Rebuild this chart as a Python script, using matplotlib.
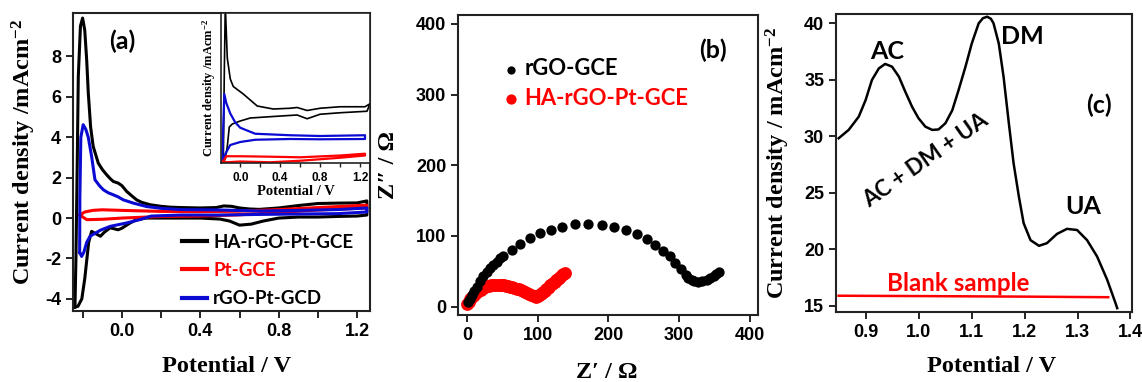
import numpy as np
import matplotlib
matplotlib.use("Agg")
import matplotlib.pyplot as plt

plt.rcParams['font.family'] = ['Liberation Sans', 'DejaVu Sans']
plt.rcParams['font.weight'] = 'bold'
plt.rcParams['axes.unicode_minus'] = False
plt.rcParams['mathtext.fontset'] = 'custom'
plt.rcParams['mathtext.rm'] = 'Liberation Serif:bold'
plt.rcParams['mathtext.bf'] = 'Liberation Serif:bold'
plt.rcParams['mathtext.default'] = 'bf'

# ---- (a) cyclic voltammograms: forward / reverse sweeps ----
ha_fwd_v = [-0.24, -0.235, -0.228, -0.223, -0.212, -0.201, -0.19, -0.18, -0.172, -0.16, -0.147,
            -0.121, -0.1, -0.078, -0.06, -0.044, -0.019, 0.0, 0.024, 0.05, 0.075, 0.1, 0.143,
            0.2, 0.245, 0.3, 0.4, 0.48, 0.52, 0.56, 0.6, 0.65, 0.7, 0.8, 0.9, 1.0, 1.1, 1.2, 1.25]
ha_fwd_j = [-4.4, -2.0, 3.0, 7.0, 9.5, 9.9, 9.3, 7.8, 6.2, 4.5, 3.55,
            2.72, 2.4, 2.14, 1.95, 1.81, 1.73, 1.6, 1.32, 1.1, 0.9, 0.78, 0.66,
            0.58, 0.54, 0.52, 0.5, 0.52, 0.6, 0.58, 0.5, 0.45, 0.43, 0.5, 0.62, 0.72, 0.74, 0.75, 0.85]
ha_rev_v = [1.25, 1.2, 1.1, 1.0, 0.9, 0.8, 0.72, 0.66, 0.6, 0.55, 0.5, 0.4, 0.3, 0.2,
            0.12, 0.07, 0.04, 0.0, -0.02, -0.06, -0.09, -0.11, -0.155, -0.17, -0.19,
            -0.205, -0.225, -0.24]
ha_rev_j = [0.15, 0.1, 0.08, 0.05, 0.05, 0.0, -0.15, -0.3, -0.35, -0.15, -0.05, 0.0, 0.0, 0.0,
            0.0, -0.1, -0.25, -0.5, -0.58, -0.48, -0.7, -0.9, -0.66, -1.2, -3.0,
            -4.0, -4.37, -4.4]

pt_fwd_v = [-0.215, -0.19, -0.15, -0.1, 0.0, 0.2, 0.4, 0.6, 0.8, 1.0, 1.25]
pt_fwd_j = [0.15, 0.3, 0.38, 0.41, 0.38, 0.33, 0.32, 0.34, 0.42, 0.52, 0.64]
pt_rev_v = [1.25, 1.0, 0.8, 0.6, 0.4, 0.2, 0.0, -0.1, -0.18, -0.215]
pt_rev_j = [0.5, 0.4, 0.28, 0.16, 0.1, 0.08, 0.0, -0.06, -0.08, 0.15]

rgo_fwd_v = [-0.216, -0.215, -0.21, -0.198, -0.185, -0.172, -0.155, -0.138, -0.115, -0.095,
             -0.07, -0.044, -0.02, 0.007, 0.058, 0.126, 0.2, 0.3, 0.5, 0.7, 0.9, 1.1, 1.25]
rgo_fwd_j = [-1.7, 1.0, 4.0, 4.62, 4.4, 4.0, 3.05, 1.9, 1.6, 1.4,
             1.25, 1.15, 1.05, 0.9, 0.74, 0.57, 0.48, 0.42, 0.4, 0.35, 0.38, 0.42, 0.5]
rgo_rev_v = [1.25, 1.1, 0.9, 0.7, 0.5, 0.3, 0.15, 0.09, 0.02, -0.06, -0.11, -0.163,
             -0.18, -0.195, -0.206, -0.216]
rgo_rev_j = [0.3, 0.22, 0.2, 0.18, 0.15, 0.15, 0.1, -0.08, -0.25, -0.41, -0.6, -0.9,
             -1.2, -1.7, -1.9, -1.7]

# inset (offset curves, arbitrary units)
in_ha_v = [-0.17, -0.16, -0.15, -0.13, -0.1, -0.07, 0.03, 0.17, 0.33, 0.5, 0.57, 0.67, 0.8,
           1.0, 1.25, 1.3, 1.27, 1.0, 0.8, 0.67, 0.57, 0.33, 0.1, 0.0, -0.08, -0.11, -0.13,
           -0.15, -0.17]
in_ha_j = [0.0, 6.0, 10.5, 7.0, 5.6, 5.1, 4.6, 3.8, 3.6, 3.65, 3.7, 3.5, 3.65,
           3.75, 3.75, 3.95, 3.45, 3.35, 3.25, 2.95, 3.2, 3.1, 3.0, 2.8, 2.6, 2.4, 1.1,
           0.3, 0.0]
in_rgo_v = [-0.18, -0.17, -0.16, -0.14, -0.1, -0.05, 0.0, 0.15, 0.5, 0.8, 1.25, 1.25, 0.8,
            0.5, 0.15, 0.0, -0.1, -0.15, -0.17]
in_rgo_j = [0.1, 2.5, 4.6, 4.0, 3.3, 2.7, 2.35, 1.95, 1.85, 1.8, 1.85, 1.6, 1.58,
            1.6, 1.55, 1.4, 1.2, 0.6, 0.1]
in_pt_v = [-0.17, -0.14, 0.0, 0.3, 0.6, 1.0, 1.25, 1.25, 1.0, 0.6, 0.3, 0.0, -0.14, -0.17]
in_pt_j = [0.1, 0.45, 0.45, 0.42, 0.38, 0.5, 0.62, 0.5, 0.35, 0.15, 0.05, 0.1, 0.05, 0.1]

# ---- (b) Nyquist ----
nyq_rgo_x = [1.4, 3.5, 6.2, 9.5, 13.3, 18, 22.9, 27.5, 32.4, 37, 42, 46.5, 51.4, 63, 75, 88.6,
             102.9, 119, 134.8, 152.9, 171.4, 190.5, 208.6, 225, 240.5, 254.8, 266.7, 277.6,
             287, 295, 302.9, 309.5, 313, 318, 322, 327.6, 333, 339.5, 344, 349, 353, 357]
nyq_rgo_y = [7, 11, 16.5, 22, 28, 35.5, 42.5, 48.5, 54, 59, 63.7, 68, 71.7, 80, 88, 96.7,
             104, 108, 113, 117, 117, 115.6, 112, 108.5, 102, 95.8, 87, 79,
             71, 61, 53, 45, 41, 38, 36, 35, 36, 38, 40, 42.5, 46, 49.5]
nyq_ha_x = [0, 2, 4, 6, 8, 10, 13, 16, 19, 22, 25, 28, 31, 34, 37, 40, 43, 46, 49, 52, 55, 58,
            61, 64, 67, 70, 73, 76, 79, 82, 85, 88, 91, 94, 96, 98, 100, 102, 104, 106, 108,
            110, 112, 114, 116, 118, 120, 122, 124, 126, 128, 130, 132, 134, 136, 138]
nyq_ha_y = [4, 7, 10, 12.5, 15, 17, 19.5, 22, 24, 25.5, 27, 28.5, 29.5, 30.2, 30.7, 31, 31,
            30.8, 30.5, 30, 29.4, 28.7, 28, 27.2, 26.3, 25.3, 24.2, 23, 21.7, 20.3, 18.9,
            17.4, 16, 14.8, 14.2, 14, 14.5, 15.8, 17.3, 19, 20.8, 22.6, 24.4, 26.2, 28, 29.8,
            31.6, 33.4, 35.2, 37, 38.8, 40.6, 42.4, 44.2, 46, 47.8]

# ---- (c) DPV ----
dpv_v = [0.848, 0.867, 0.886, 0.899, 0.911, 0.924, 0.936, 0.949, 0.962, 0.974, 0.987, 0.999,
         1.012, 1.025, 1.037, 1.050, 1.063, 1.075, 1.088, 1.100, 1.113, 1.121, 1.129, 1.136,
         1.141, 1.151, 1.160, 1.170, 1.179, 1.189, 1.198, 1.211, 1.227, 1.242, 1.261, 1.280,
         1.299, 1.318, 1.337, 1.356, 1.372, 1.375]
dpv_j = [29.82, 30.56, 31.73, 33.2, 34.98, 36.0, 36.4, 36.16, 35.27, 33.95, 32.6, 31.6,
         30.85, 30.56, 30.6, 31.15, 32.3, 34.1, 36.16, 38.23, 40.0, 40.45, 40.58, 40.4,
         40.0, 38.2, 35.27, 31.15, 27.6, 24.65, 22.3, 20.8, 20.3, 20.53, 21.35, 21.8,
         21.7, 20.8, 19.35, 17.3, 15.2, 14.78]
blank_v = [0.848, 1.0, 1.2, 1.358]
blank_j = [15.88, 15.85, 15.8, 15.75]

BLACK = '#000000'
RED = '#ff0000'
BLUE = '#0a0ad2'
SANS = 'Lato'
SERIF = ['Liberation Serif', 'DejaVu Serif']

W, H = 1142, 382
fig = plt.figure(figsize=(W / 100, H / 100), dpi=100)


def box(l, t, r, b):
    return [l / W, (H - b) / H, (r - l) / W, (b - t) / H]


def style(ax, fs=13):
    for s in ax.spines.values():
        s.set_linewidth(1.5)
        s.set_color('#222222')
    ax.tick_params(direction='out', length=5, width=1.4, labelsize=fs, color='#222222')


# ---------- panel (a) ----------
ax = fig.add_axes(box(73, 13, 370, 311))
ax.plot(ha_fwd_v + ha_rev_v, ha_fwd_j + ha_rev_j, color=BLACK, lw=2.2, label='HA-rGO-Pt-GCE')
ax.plot(pt_fwd_v + pt_rev_v, pt_fwd_j + pt_rev_j, color=RED, lw=2.2, label='Pt-GCE')
ax.plot(rgo_fwd_v + rgo_rev_v, rgo_fwd_j + rgo_rev_j, color=BLUE, lw=2.2, label='rGO-Pt-GCD')
ax.set_xlim(-0.25, 1.266)
ax.set_ylim(-4.6, 10.15)
ax.set_xticks(np.arange(-0.2, 1.21, 0.2))
ax.set_xticklabels(['', '0.0', '', '0.4', '', '0.8', '', '1.2'])
ax.set_yticks([-4, -2, 0, 2, 4, 6, 8])
style(ax)
ax.set_xlabel('Potential / V', fontsize=17.5, fontweight='bold', family=SERIF, va='center')
ax.xaxis.set_label_coords((227 - 73) / 297, -(367 - 311) / 298)
ax.set_ylabel('Current density /mAcm$^{-2}$', fontsize=17.5, fontweight='bold', family=SERIF,
              va='center')
ax.yaxis.set_label_coords((24 - 73) / 297, (311 - 152) / 298)
ax.text(0.0, 8.75, '(a)', fontsize=18, fontweight='bold', family=SANS, ha='center', va='center')
leg = ax.legend(loc='lower left', bbox_to_anchor=(0.355, 0.0), borderaxespad=0, frameon=False,
                prop={'family': SANS, 'weight': 'bold', 'size': 13.5}, handlelength=1.3,
                handletextpad=0.35, labelspacing=0.6, borderpad=0.2,
                labelcolor=[BLACK, RED, BLACK])
for h in leg.get_lines():
    h.set_linewidth(3)

# inset
ins = fig.add_axes(box(221, 13, 370, 163))
ins.plot(in_ha_v, in_ha_j, color=BLACK, lw=1.2)
ins.plot(in_rgo_v, in_rgo_j, color=BLUE, lw=1.6)
ins.plot(in_pt_v, in_pt_j, color=RED, lw=1.6)
ins.set_xlim(-0.193, 1.3)
ins.set_ylim(0, 10)
ins.set_xticks(np.arange(0.0, 1.21, 0.2))
ins.set_xticklabels(['0.0', '', '0.4', '', '0.8', '', '1.2'])
ins.set_yticks([])
style(ins, fs=8.5)
ins.tick_params(length=3, width=1)
for s in ins.spines.values():
    s.set_linewidth(1.2)
ins.set_xlabel('Potential / V', fontsize=10.5, fontweight='bold', family=SERIF, labelpad=1)
ins.set_ylabel('Current density /mAcm$^{-2}$', fontsize=9, fontweight='bold', family=SERIF,
               labelpad=2)

# ---------- panel (b) ----------
ax = fig.add_axes(box(458, 15, 758, 315))
ax.scatter(nyq_rgo_x, nyq_rgo_y, s=55, color=BLACK, linewidths=0, label='rGO-GCE', zorder=3)
ax.scatter(nyq_ha_x, nyq_ha_y, s=85, color=RED, linewidths=0, label='HA-rGO-Pt-GCE', zorder=2)
ax.set_xlim(-13, 412)
ax.set_ylim(-12, 412.5)
ax.set_xticks([0, 100, 200, 300, 400])
ax.set_yticks([0, 100, 200, 300, 400])
style(ax)
ax.set_xlabel('Z′ / Ω', fontsize=17.5, fontweight='bold', family=SERIF, va='center')
ax.xaxis.set_label_coords((607 - 458) / 300, -(372 - 315) / 300)
ax.set_ylabel('Z″ / Ω', fontsize=17.5, fontweight='bold', family=SERIF, va='center')
ax.yaxis.set_label_coords((389 - 458) / 300, (315 - 165) / 300)
ax.text(348, 363, '(b)', fontsize=18, fontweight='bold', family=SANS, ha='center', va='center')
ax.legend(loc='upper left', bbox_to_anchor=(0.14, 0.87), borderaxespad=0, frameon=False,
          prop={'family': SANS, 'weight': 'bold', 'size': 15.8}, handlelength=0.6,
          handletextpad=0.3, labelspacing=0.4, borderpad=0.2, scatterpoints=1,
          markerscale=0.8, labelcolor=[BLACK, RED])

# ---------- panel (c) ----------
ax = fig.add_axes(box(836, 14, 1132, 312))
ax.plot(dpv_v, dpv_j, color=BLACK, lw=1.8)
ax.plot(blank_v, blank_j, color=RED, lw=1.8)
ax.set_xlim(0.843, 1.403)
ax.set_ylim(14.44, 40.82)
ax.set_xticks([0.9, 1.0, 1.1, 1.2, 1.3, 1.4])
ax.set_yticks([15, 20, 25, 30, 35, 40])
style(ax)
ax.set_xlabel('Potential / V', fontsize=17.5, fontweight='bold', family=SERIF, va='center')
ax.xaxis.set_label_coords((992 - 836) / 296, -(367 - 312) / 298)
ax.set_ylabel('Current density / mAcm$^{-2}$', fontsize=17.5, fontweight='bold', family=SERIF,
              va='center')
ax.yaxis.set_label_coords((778 - 836) / 296, (312 - 163) / 298)
ann = dict(fontsize=18, fontweight='bold', family=SANS, ha='center', va='center')
ax.text(0.94, 37.5, 'AC', **ann)
ax.text(1.195, 38.8, 'DM', **ann)
ax.text(1.311, 23.77, 'UA', **ann)
ax.text(1.34, 32.77, '(c)', **ann)
ax.text(1.012, 27.9, 'AC + DM + UA', fontsize=16, fontweight='bold', family=SANS,
        ha='center', va='center', rotation=35)
ax.text(1.075, 17.0, 'Blank sample', fontsize=17.4, fontweight='bold', family=SANS,
        color=RED, ha='center', va='center')

fig.savefig('out.png', dpi=100)
